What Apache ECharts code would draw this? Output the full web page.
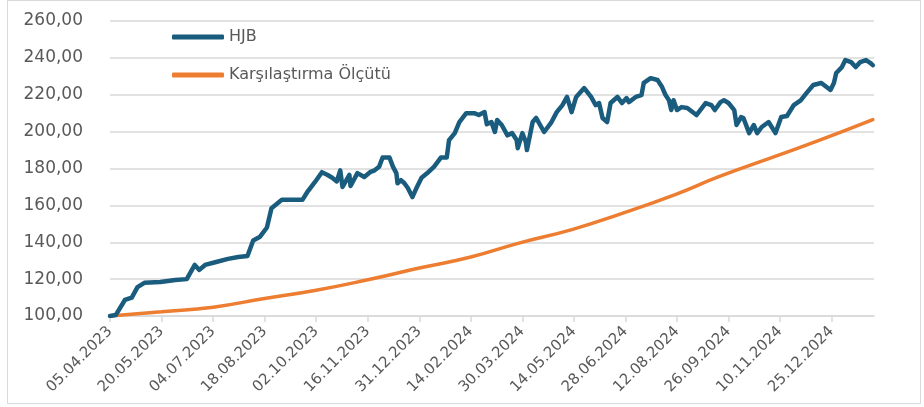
<!DOCTYPE html>
<html>
<head>
<meta charset="utf-8">
<script src="https://cdn.jsdelivr.net/npm/echarts@6/dist/echarts.min.js"></script>
<style>
  html, body { margin: 0; padding: 0; background: #fff; }
  #chart { width: 924px; height: 407px; }
</style>
</head>
<body>
<div id="chart"></div>
<script>
const tickLabels = ['05.04.2023', '20.05.2023', '04.07.2023', '18.08.2023', '02.10.2023',
  '16.11.2023', '31.12.2023', '14.02.2024', '30.03.2024', '14.05.2024', '28.06.2024',
  '12.08.2024', '26.09.2024', '10.11.2024', '25.12.2024']
const axisStart = '2023-04-05'
const axisEnd = '2025-01-31'
const yTicks = [100, 120, 140, 160, 180, 200, 220, 240, 260]

const hjbDates = ['2023-04-05', '2023-04-10', '2023-04-18', '2023-04-24', '2023-04-29', '2023-05-05',
  '2023-05-19', '2023-06-01', '2023-06-11', '2023-06-18', '2023-06-22', '2023-06-27', '2023-07-05',
  '2023-07-17', '2023-07-26', '2023-08-03', '2023-08-08', '2023-08-14', '2023-08-20', '2023-08-24',
  '2023-09-02', '2023-09-11', '2023-09-20', '2023-09-24', '2023-10-01', '2023-10-07', '2023-10-12',
  '2023-10-16', '2023-10-20', '2023-10-23', '2023-10-25', '2023-10-31', '2023-11-01', '2023-11-07',
  '2023-11-13', '2023-11-18', '2023-11-22', '2023-11-26', '2023-11-29', '2023-12-05', '2023-12-08',
  '2023-12-11', '2023-12-12', '2023-12-15', '2023-12-18', '2023-12-21', '2023-12-25', '2023-12-29',
  '2024-01-02', '2024-01-07', '2024-01-13', '2024-01-19', '2024-01-24', '2024-01-26', '2024-01-31',
  '2024-02-04', '2024-02-10', '2024-02-17', '2024-02-21', '2024-02-26', '2024-02-28', '2024-03-03',
  '2024-03-06', '2024-03-08', '2024-03-12', '2024-03-17', '2024-03-21', '2024-03-25', '2024-03-26',
  '2024-03-30', '2024-04-02', '2024-04-03', '2024-04-08', '2024-04-11', '2024-04-18', '2024-04-24',
  '2024-04-29', '2024-05-04', '2024-05-08', '2024-05-12', '2024-05-16', '2024-05-23', '2024-05-29',
  '2024-06-02', '2024-06-05', '2024-06-08', '2024-06-12', '2024-06-15', '2024-06-21', '2024-06-25',
  '2024-06-29', '2024-07-01', '2024-07-07', '2024-07-12', '2024-07-14', '2024-07-20', '2024-07-26',
  '2024-07-30', '2024-08-02', '2024-08-05', '2024-08-07', '2024-08-09', '2024-08-12', '2024-08-16',
  '2024-08-21', '2024-08-29', '2024-09-06', '2024-09-11', '2024-09-14', '2024-09-19', '2024-09-22',
  '2024-09-26', '2024-10-01', '2024-10-03', '2024-10-07', '2024-10-09', '2024-10-14', '2024-10-18',
  '2024-10-21', '2024-10-25', '2024-10-31', '2024-11-06', '2024-11-11', '2024-11-16', '2024-11-22',
  '2024-11-28', '2024-12-03', '2024-12-09', '2024-12-16', '2024-12-24', '2024-12-27', '2024-12-29',
  '2025-01-03', '2025-01-06', '2025-01-11', '2025-01-15', '2025-01-19', '2025-01-24', '2025-01-28',
  '2025-01-30']
const hjbValues = [100, 100.5, 108.7, 110, 115.7, 118,
  118.4, 119.5, 120, 127.7, 125, 127.7, 129,
  131, 132, 132.5, 141, 143, 148, 158.5,
  163, 163, 163, 167, 172.7, 178, 176.5,
  175, 173, 179, 170, 176.5, 170.5, 177.5,
  175.4, 178, 179, 181, 186, 186, 181,
  177.5, 172, 173.7, 172, 169.4, 164.5, 170,
  175, 177.5, 181, 186, 186, 195.4, 199.2,
  205.2, 210, 210, 209, 210.6, 204, 205.2,
  199.8, 206.3, 203.6, 198, 199.2, 195.4, 191,
  199.2, 194.4, 190, 205.2, 207.4, 199.8, 204.7,
  210.6, 214.4, 218.8, 210.6, 218.8, 223.6, 218.8,
  214.4, 215.5, 207.4, 205.2, 215.5, 218.8, 215.5,
  218.2, 216, 218.8, 219.8, 226.4, 229, 228,
  224.2, 219.8, 217, 211.7, 217, 211.7, 213.3,
  212.8, 209, 215.5, 214.4, 211.7, 216, 217,
  215.5, 211.7, 203.6, 207.9, 207.4, 199.2, 203.6,
  199.2, 202.5, 205.2, 199.2, 207.9, 208.5, 214.4,
  217, 220.9, 225.3, 226.4, 222.6, 226.4, 231.8,
  235, 238.8, 237.7, 235, 237.7, 238.8, 237.2,
  236]

const benchDates = ['2023-04-05', '2023-05-20', '2023-07-04', '2023-08-18', '2023-10-02',
  '2023-11-15', '2023-12-31', '2024-02-14', '2024-03-27', '2024-05-13', '2024-06-22',
  '2024-08-11', '2024-09-17', '2024-11-10', '2024-12-14', '2025-01-30']
const benchValues = [100, 102.3, 104.8, 109.5, 114, 119.5, 126, 132, 139.5, 147, 155,
  166, 175.4, 187.5, 195.2, 206.5]

const parseIso = (s) => Date.parse(s + 'T00:00:00Z')
const parseTr = (s) => {
  const [d, m, y] = s.split('.').map(Number)
  return Date.UTC(y, m - 1, d)
}
const fmtTr = (t) => {
  const d = new Date(t)
  const p = (n) => String(n).padStart(2, '0')
  return p(d.getUTCDate()) + '.' + p(d.getUTCMonth() + 1) + '.' + d.getUTCFullYear()
}
const tickValues = tickLabels.map(parseTr)
const pair = (dates, vals) => dates.map((d, i) => [parseIso(d), vals[i]])

const textColor = '#595959'
const gridColor = '#d9d9d9'
const fontFamily = 'DejaVu Sans'

let myChart = echarts.init(document.getElementById('chart'))
let option = {
  animation: false,
  graphic: [{
    type: 'rect',
    shape: { x: 7.5, y: 0.5, width: 913, height: 403 },
    style: { fill: 'none', stroke: gridColor, lineWidth: 1 },
  }],
  grid: { left: 110, right: 50, top: 21, bottom: 91 },
  legend: {
    orient: 'vertical',
    left: 167,
    top: 22,
    itemWidth: 52,
    itemHeight: 5,
    itemGap: 18,
    icon: 'roundRect',
    textStyle: { color: textColor, fontSize: 16, fontFamily: fontFamily, lineHeight: 20 },
    data: ['HJB', 'Karşılaştırma Ölçütü'],
  },
  xAxis: {
    type: 'value',
    min: parseIso(axisStart),
    max: parseIso(axisEnd),
    splitLine: { show: false },
    axisLine: { show: true, lineStyle: { color: gridColor, width: 1.5 } },
    axisTick: { show: true, length: 6, customValues: tickValues, lineStyle: { color: gridColor, width: 1.5 } },
    axisLabel: {
      customValues: tickValues,
      rotate: 45,
      margin: 13,
      color: textColor,
      fontSize: 15,
      fontFamily: fontFamily,
      formatter: (v) => fmtTr(v),
    },
  },
  yAxis: {
    type: 'value',
    min: yTicks[0],
    max: yTicks[yTicks.length - 1],
    interval: 20,
    axisLine: { show: false },
    axisTick: { show: false },
    splitLine: { lineStyle: { color: gridColor, width: 1.5 } },
    axisLabel: {
      margin: 27,
      color: textColor,
      fontSize: 17,
      fontFamily: fontFamily,
      formatter: (v) => v.toFixed(2).replace('.', ','),
    },
  },
  series: [
    {
      name: 'Karşılaştırma Ölçütü',
      type: 'line',
      data: pair(benchDates, benchValues),
      showSymbol: false,
      smooth: true,
      itemStyle: { color: '#ed7d31' },
      lineStyle: { color: '#ed7d31', width: 3.5, cap: 'round' },
      z: 2,
    },
    {
      name: 'HJB',
      type: 'line',
      data: pair(hjbDates, hjbValues),
      showSymbol: false,
      itemStyle: { color: '#1a5c7e' },
      lineStyle: { color: '#1a5c7e', width: 4.5, cap: 'round', join: 'round' },
      z: 3,
    },
  ],
}
option && myChart.setOption(option)
</script>
</body>
</html>
